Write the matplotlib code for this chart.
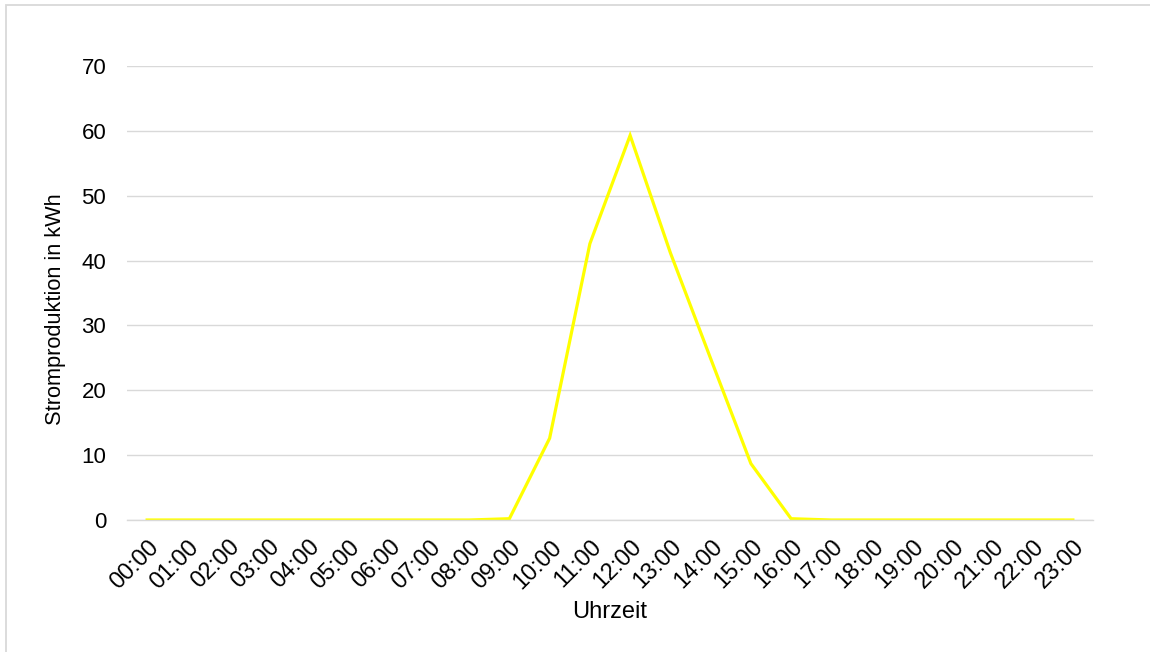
import matplotlib
matplotlib.use("Agg")
import matplotlib.pyplot as plt
from matplotlib.patches import Rectangle
from matplotlib.transforms import ScaledTranslation

# Hourly solar power production
hours = ["00:00", "01:00", "02:00", "03:00", "04:00", "05:00", "06:00", "07:00",
         "08:00", "09:00", "10:00", "11:00", "12:00", "13:00", "14:00", "15:00",
         "16:00", "17:00", "18:00", "19:00", "20:00", "21:00", "22:00", "23:00"]
production_kwh = [0, 0, 0, 0, 0, 0, 0, 0,
                  0, 0.2, 12.6, 42.6, 59.3, 41.2, 24.9, 8.7,
                  0.2, 0, 0, 0, 0, 0, 0, 0]
y_ticks = [0, 10, 20, 30, 40, 50, 60, 70]

plt.rcParams["font.family"] = ["Liberation Sans", "DejaVu Sans"]

W, H = 1150, 652
fig = plt.figure(figsize=(W / 100, H / 100), dpi=100)

# light frame around the chart area
fig.patches.append(Rectangle((6 / W, -0.05), 1.2, 1 - 5 / H + 0.05,
                             transform=fig.transFigure, fill=False,
                             edgecolor="#D9D9D9", linewidth=1.3))

left, right = 127 / W, 1093 / W
bottom, top = 1 - 520 / H, 1 - 66 / H
ax = fig.add_axes([left, bottom, right - left, top - bottom])

x = list(range(len(hours)))
ax.plot(x, production_kwh, color="#FFFF00", linewidth=2.3, solid_joinstyle="miter")

ax.set_xlim(-0.5, len(hours) - 0.5)
ax.set_ylim(0, 70)
ax.set_yticks(y_ticks)
ax.set_yticklabels([str(v) for v in y_ticks], fontsize=16, color="#000000")
ax.set_xticks(x)
ax.set_xticklabels(hours, rotation=45, ha="right", va="top",
                   rotation_mode="anchor", fontsize=16.8)
shift = ScaledTranslation(5 / 100, 0, fig.dpi_scale_trans)
for lbl in ax.get_xticklabels():
    lbl.set_transform(lbl.get_transform() + shift)

ax.grid(axis="y", color="#D9D9D9", linewidth=1)
ax.set_axisbelow(True)
for side in ("top", "right", "left"):
    ax.spines[side].set_visible(False)
ax.spines["bottom"].set_color("#D9D9D9")
ax.spines["bottom"].set_linewidth(1)
ax.tick_params(axis="both", length=0)
ax.tick_params(axis="y", pad=15)
ax.tick_params(axis="x", pad=11)

ax.set_xlabel("Uhrzeit", fontsize=17)
ax.set_ylabel("Stromproduktion in kWh", fontsize=15.7)
ax.xaxis.set_label_coords(610 / W, 1 - 612 / H, transform=fig.transFigure)
ax.yaxis.set_label_coords(56 / W, 1 - 309 / H, transform=fig.transFigure)
ax.xaxis.label.set_verticalalignment("center")
ax.yaxis.label.set_verticalalignment("center")

fig.savefig("out.png", dpi=100, facecolor="white")
